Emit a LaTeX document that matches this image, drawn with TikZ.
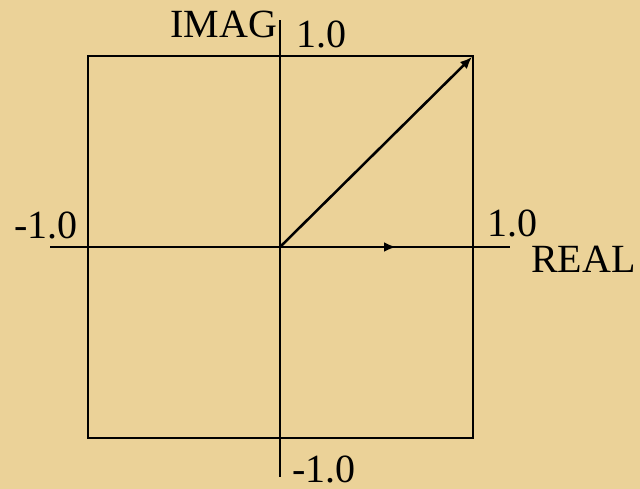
\documentclass[tikz,border=0pt]{standalone}
\usepackage{fontspec}
\setmainfont{Liberation Serif}
\usetikzlibrary{arrows.meta}
\definecolor{papyrus}{RGB}{235,210,152}

\begin{document}
\begin{tikzpicture}[x=0.75pt, y=-0.75pt,
        axis/.style={line width=1.9pt},
        vec/.style={line width=1.9pt, -{Latex[length=9pt, width=7.5pt]}},
        lbl/.style={inner sep=0pt, anchor=base west, font=\fontsize{30}{32}\selectfont}]
    \fill[papyrus] (0,0) rectangle (640,489);
    \useasboundingbox (0,0) rectangle (640,489);
    % points
    \coordinate (o) at (280,247);
    \coordinate (nw) at (88,56);
    \coordinate (se) at (473,438);
    \coordinate (xl) at (50,247);
    \coordinate (xr) at (510,247);
    \coordinate (yt) at (280,20);
    \coordinate (yb) at (280,477);
    \coordinate (re) at (396,247);
    \coordinate (ne) at (472,57);
    % box and axes
    \draw[axis] (nw) rectangle (se);
    \draw[axis] (xl) -- (xr);
    \draw[axis] (yt) -- (yb);
    % vectors
    \draw[vec] (o) -- (re);
    \draw[vec] (o) -- (ne);
    % labels
    \foreach \n/\x/\y/\txt in {imag/170/37/IMAG, ytop/296/47/1.0, xneg/14/238/-1.0,
                               xpos/487/236/1.0, real/531/272/REAL, ybot/292/482/-1.0}
        \node[lbl] (\n) at (\x,\y) {\txt};
\end{tikzpicture}
\end{document}
